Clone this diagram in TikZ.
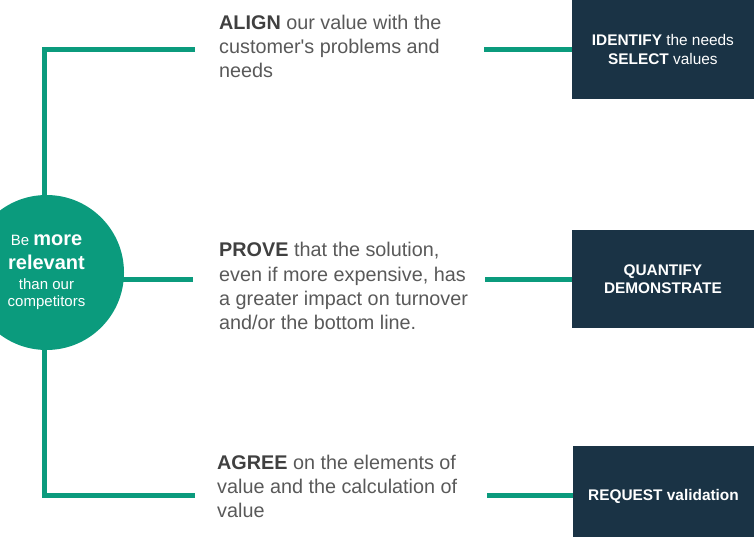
\documentclass[tikz,border=0pt]{standalone}
\usepackage{fontspec}
\setmainfont{Liberation Sans}
\usetikzlibrary{positioning}
\definecolor{vgreen}{RGB}{11,155,125}
\definecolor{vnavy}{RGB}{26,51,69}
\definecolor{vgray}{RGB}{89,89,89}
\definecolor{vdark}{RGB}{64,64,64}
\newcommand{\keyw}[1]{{\bfseries\color{vdark}#1}}
\tikzset{hub/.style={circle, fill=vgreen, minimum size=155pt, inner sep=0pt, text=white, align=center, font=\fontsize{15}{17}\selectfont},
  actbox/.style={rectangle, fill=vnavy, minimum width=182.3pt, minimum height=98.7pt, inner sep=0pt, text=white, align=center, font=\fontsize{15.4}{18.3}\selectfont},
  note/.style={anchor=north west, inner sep=0pt, align=left, text=vgray, font=\fontsize{19.8}{24.3}\selectfont},
  link/.style={draw=vgreen, line width=5pt}}

\begin{document}
\begin{tikzpicture}[x=1pt, y=-1pt]
    \clip (0,0) rectangle (754,537);

            % trunk on the left
            \coordinate (ttop) at (44,49.3);
            \coordinate (tbot) at (44,495.5);
            \coordinate (aend) at (195,49.3);
            \coordinate (pbeg) at (46.5,279.3);
            \coordinate (pend) at (193,279.3);
            \coordinate (gend) at (195,495.5);
            \draw[link] (aend) -- (ttop) -- (tbot) -- (gend);
            \draw[link] (pbeg) -- (pend);

            \node[hub] (hub) at (46.5,272.5) {Be \textbf{\fontsize{20}{17}\selectfont more}\\[7.3pt]\textbf{\fontsize{20}{17}\selectfont relevant}\\[3pt]than our\\competitors};

            \node[note] (align) at (219,14.6) {\keyw{ALIGN} our value with the\\customer\textquotesingle s problems and\\needs};
            \node[note] (prove) at (219,242.3) {\keyw{PROVE} that the solution,\\even if more expensive, has\\a greater impact on turnover\\and/or the bottom line.};
            \node[note] (agree) at (217,454.6) {\keyw{AGREE} on the elements of\\value and the calculation of\\value};

            \node[actbox] (idbox) at (662.9,49.35) {\textbf{IDENTIFY} the needs\\\textbf{SELECT} values};
            \node[actbox, font=\bfseries\fontsize{15.4}{17.7}\selectfont] (qbox) at (662.9,279) {QUANTIFY\\DEMONSTRATE};
            \node[actbox, minimum width=181pt, minimum height=91.3pt, font=\bfseries\fontsize{15.4}{18.3}\selectfont, text height=18.8pt, text depth=0pt] (rqbox) at (663.5,491.35) {REQUEST validation};

            % stubs to the boxes
            \coordinate (ibeg) at (484,49.35);
            \coordinate (qbeg) at (485,279);
            \coordinate (rbeg) at (487,495.7);
            \draw[link] (ibeg) -- (idbox);
            \draw[link] (qbeg) -- (qbox);
            \draw[link] (rbeg) -- (rbeg -| rqbox.west);

        \end{tikzpicture}
\end{document}
